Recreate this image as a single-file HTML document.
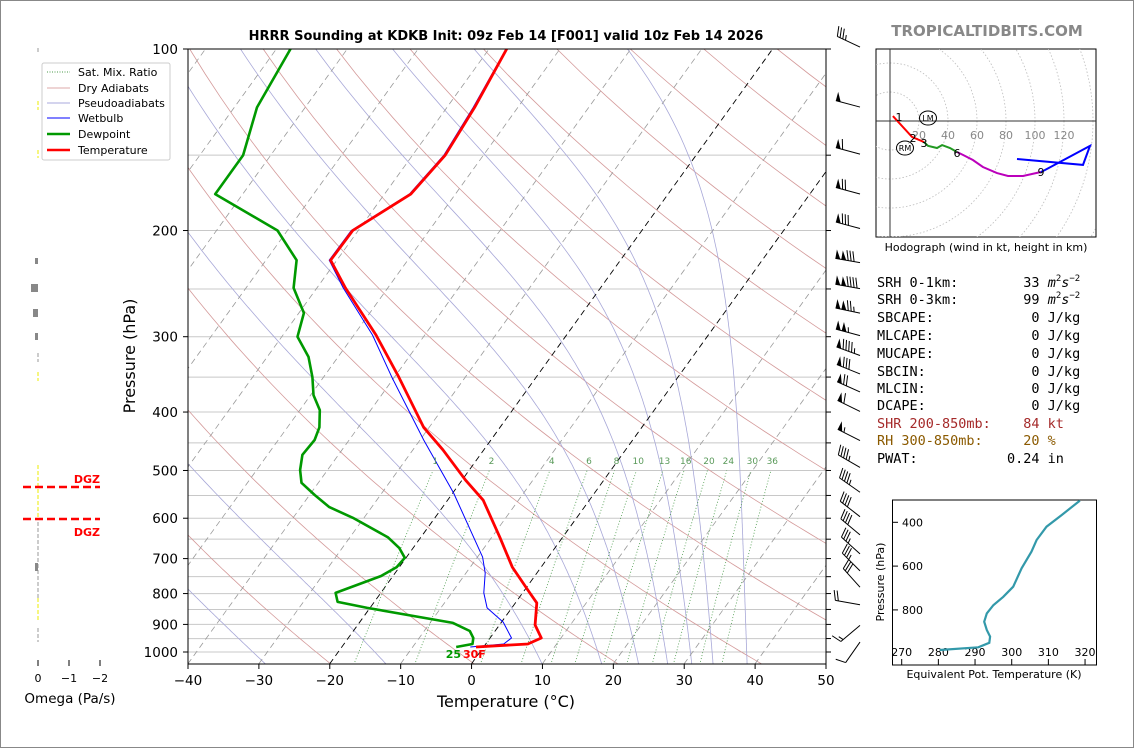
<!DOCTYPE html>
<html><head><meta charset="utf-8"><style>
html,body{margin:0;padding:0;background:#fff;}
svg{display:block;font-family:"DejaVu Sans","Liberation Sans",sans-serif;}
.mono text{font-family:"DejaVu Sans Mono","Liberation Mono",monospace;font-size:13.5px;white-space:pre;}
</style></head><body>
<svg id="fig" width="1134" height="748" viewBox="0 0 1134 748" xmlns="http://www.w3.org/2000/svg">
<rect x="0.5" y="0.5" width="1133" height="747" fill="#fff" stroke="#888"/>
<defs>
<clipPath id="plotclip"><rect x="188" y="49" width="638" height="615"/></clipPath>
<clipPath id="hodoclip"><rect x="876" y="49" width="220" height="188"/></clipPath>
</defs>
<g id="bg" clip-path="url(#plotclip)"></g>
<g id="series" clip-path="url(#plotclip)"></g>
<g id="axes"></g>
<text x="506" y="40" text-anchor="middle" font-size="13" font-weight="bold">HRRR Sounding at KDKB Init: 09z Feb 14 [F001] valid 10z Feb 14 2026</text>
<text x="987" y="36" text-anchor="middle" font-size="15" font-weight="bold" fill="#888">TROPICALTIDBITS.COM</text>
<text x="506" y="707" text-anchor="middle" font-size="16">Temperature (°C)</text>
<text x="135" y="356" text-anchor="middle" font-size="16" transform="rotate(-90 135 356)">Pressure (hPa)</text>

<g>
<rect x="42" y="63" width="128" height="97" fill="#fff" stroke="#ccc" rx="2"/>
<line x1="47" y1="72" x2="70" y2="72" stroke="#4a9a4a" stroke-dasharray="1,1.5"/>
<text x="78" y="76" font-size="11">Sat. Mix. Ratio</text>
<line x1="47" y1="88" x2="70" y2="88" stroke="#dcaaaa"/>
<text x="78" y="92" font-size="11">Dry Adiabats</text>
<line x1="47" y1="103" x2="70" y2="103" stroke="#aaaadc"/>
<text x="78" y="107" font-size="11">Pseudoadiabats</text>
<line x1="47" y1="118" x2="70" y2="118" stroke="#0000ff"/>
<text x="78" y="122" font-size="11">Wetbulb</text>
<line x1="47" y1="134" x2="70" y2="134" stroke="#009900" stroke-width="2.5"/>
<text x="78" y="138" font-size="11">Dewpoint</text>
<line x1="47" y1="150" x2="70" y2="150" stroke="#ff0000" stroke-width="2.5"/>
<text x="78" y="154" font-size="11">Temperature</text>
</g>

<g id="omega"></g>
<g id="barbs"></g>
<g id="hodo"></g>
<text x="986" y="251" text-anchor="middle" font-size="11">Hodograph (wind in kt, height in km)</text>

<g class="mono">
<text x="877" y="287">SRH 0-1km:        33 <tspan font-style="italic">m</tspan><tspan font-size="9" dy="-6">2</tspan><tspan font-style="italic" dy="6">s</tspan><tspan font-size="9" dy="-6">−2</tspan></text>
<text x="877" y="304">SRH 0-3km:        99 <tspan font-style="italic">m</tspan><tspan font-size="9" dy="-6">2</tspan><tspan font-style="italic" dy="6">s</tspan><tspan font-size="9" dy="-6">−2</tspan></text>
<text x="877" y="322">SBCAPE:            0 J/kg</text>
<text x="877" y="340">MLCAPE:            0 J/kg</text>
<text x="877" y="358">MUCAPE:            0 J/kg</text>
<text x="877" y="376">SBCIN:             0 J/kg</text>
<text x="877" y="393">MLCIN:             0 J/kg</text>
<text x="877" y="410">DCAPE:             0 J/kg</text>
<text x="877" y="428" fill="#a52a2a">SHR 200-850mb:    84 kt</text>
<text x="877" y="445" fill="#8b5a00">RH 300-850mb:     20 %</text>
<text x="877" y="463">PWAT:           0.24 in</text>
</g>

<g id="thetae"></g>

<script>
// ===== Skew-T data =====
const tempP = [100,125,150,174,200,224,249,298,350,424,462,519,560,645,723,795,829,902,948,970,981];
const tempT = [-57.5,-56.1,-55.4,-56.3,-60.8,-60.9,-56.0,-46.9,-39.4,-30.8,-25.8,-19.5,-15.0,-8.9,-4.1,0.8,3.0,5.0,7.2,5.9,-1.1];
const dewP = [100,125,150,174,200,224,249,274,300,324,350,375,397,424,445,471,499,524,549,575,599,645,672,698,723,748,798,826,845,895,923,948,970,981];
const dewT = [-88.0,-86.8,-83.9,-83.9,-71.4,-65.7,-63.3,-59.3,-57.8,-54.2,-51.6,-49.6,-47.2,-45.5,-44.9,-45.1,-43.9,-42.4,-39.3,-36.0,-31.6,-24.7,-22.0,-20.2,-20.4,-21.7,-26.4,-25.2,-20.4,-6.8,-3.6,-2.4,-1.9,-3.9];
const wbP = [100,125,150,174,200,224,249,298,350,445,545,696,740,798,845,892,948,970,981];
const wbT = [-57.6,-56.3,-55.6,-56.5,-61.0,-61.1,-56.3,-47.4,-40.4,-29.5,-19.9,-9.3,-7.3,-5.5,-3.5,0.2,3.0,2.5,-1.9];
const xTicks = [-40,-30,-20,-10,0,10,20,30,40,50];
const yTicks = [100,200,300,400,500,600,700,800,900,1000];
const gridP = [100,150,200,250,300,350,400,450,500,550,600,650,700,750,800,850,900,950,1000];
const mixW = [1,2,4,6,8,10,13,16,20,24,30,36];
const mixLabels = ["1","2","4","6","8","10","13","16","20","24","30","36"];
const dryTheta = [210,230,250,270,290,310,330,350,370,390,410,430,450,470,490,510,530,550];
const moistT0 = [-70,-55,-41,-29,-12,10,18.4,23.6,27.7,31.1,34.1,38.9];
const isoT = [-110,-100,-90,-80,-70,-60,-50,-40,-30,-20,-10,0,10,20,30,40,50];
// wind barbs
const barbP = [97,122,146,170,194,221,244,268,292,315,338,362,390,436,483,531,583,625,672,717,763,816,883,941];
const barbSpd = [35,50,60,70,80,130,140,125,105,95,80,70,60,55,45,45,40,40,35,35,30,20,15,10];
const barbDir = [295,285,285,285,285,280,280,282,285,290,292,294,296,297,300,305,308,310,312,315,318,280,230,215];
// hodograph (kt)
const hodoU1 = [2,15.2,23.4];           const hodoV1 = [3.4,-11,-14.5];
const hodoU2 = [23.4,26.2,32.4,35.9,41.4,46.2]; const hodoV2 = [-14.5,-17.2,-18.6,-16.6,-18.6,-21.4];
const hodoU3 = [46.2,50.3,57.2,64.1,73.8,81.4,91.7,104.1]; const hodoV3 = [-21.4,-23.4,-26.9,-31.7,-35.9,-37.9,-37.9,-35.2];
const hodoU4 = [104.1,106.9,137.9,133.1,87.6]; const hodoV4 = [-35.2,-33.8,-17.2,-30.3,-26.2];
const hodoRings = [20,40,60,80,100,120,140,160];
// theta-e inset
const teP = [301,367,420,481,534,610,694,740,778,816,854,892,922,950,971,983];
const teK = [318.6,313.6,309.5,306.8,305.4,302.7,300.4,297.7,295.0,293.2,292.5,293.2,294.1,293.9,290.9,280.4];
const teXTicks = [270,280,290,300,310,320];
const teYTicks = [400,600,800];

const NS="http://www.w3.org/2000/svg";
function mk(tag, attrs, parent){const e=document.createElementNS(NS,tag);for(const k in attrs)e.setAttribute(k,attrs[k]);if(parent)parent.appendChild(e);return e;}
const yP = p => 49 + 603*Math.log10(p/100);
const xT = (T,p) => 188 + (T+40)*7.0889 + 0.72*(664 - yP(p));
const pathFrom = pts => pts.map((q,i)=>(i?'L':'M')+q[0].toFixed(1)+','+q[1].toFixed(1)).join('');

const bg=document.getElementById('bg'), ser=document.getElementById('series'), ax=document.getElementById('axes');

gridP.forEach(p=>{
  const l=mk('line',{x1:188,x2:826,y1:yP(p),y2:yP(p),stroke:'#c8c8c8','stroke-width':1},bg);
  
  
});
dryTheta.forEach(th=>{
  const pts=[];for(let p=1050;p>=100;p-=10)pts.push([xT(th*Math.pow(p/1000,0.2857)-273.15,p),yP(p)]);
  const e=mk('path',{d:pathFrom(pts),fill:'none',stroke:'#d49a9a','stroke-width':0.8},bg);
  
  
});
function esat(Tk){return 6.112*Math.exp(17.67*(Tk-273.15)/(Tk-29.65));}
function dTdp(T,p){const es=esat(T);const rs=0.622*es/Math.max(p-es,1);const Rd=287.04,Cp=1005.7,Lv=2.501e6;
  return (Rd*T+Lv*rs)/(p*(Cp+Lv*Lv*rs*0.622/(Rd*T*T)));}
moistT0.forEach(t0=>{
  const pts=[];let T=t0+273.15;
  for(let p=1048;p>=100;p-=4){pts.push([xT(T-273.15,p),yP(p)]);const k1=dTdp(T,p);const k2=dTdp(T-k1*4,p-4);T-=(k1+k2)*2;}
  const e=mk('path',{d:pathFrom(pts),fill:'none',stroke:'#a8a8d8','stroke-width':0.8},bg);
  
  
});
isoT.forEach(t=>{
  const black=(t===0||t===-20);
  const e=mk('line',{x1:xT(t,1048),y1:664,x2:xT(t,100),y2:49,stroke:black?'#000':'#999','stroke-width':black?0.9:0.8,'stroke-dasharray':'6,4'},bg);
  
  
});
mixW.forEach((w,i)=>{
  const pts=[];for(let p=1050;p>=500;p-=10){const e=p*w/(622+w);const l=Math.log(e/6.112);pts.push([xT(243.5*l/(17.67-l),p),yP(p)]);}
  const e=mk('path',{d:pathFrom(pts),fill:'none',stroke:'#4a9a4a','stroke-width':0.8,'stroke-dasharray':'1,2'},bg);
  
  
  const pl=490, ev=pl*w/(622+w), lv=Math.log(ev/6.112);
  const t=mk('text',{x:xT(243.5*lv/(17.67-lv),pl),y:yP(pl)-1,'font-size':9,fill:'#5a9a5a','text-anchor':'middle'},ax);
  t.textContent=mixLabels[i];
  
  
});
function series(P,T,color,w,name){
  const pts=P.map((p,i)=>[xT(T[i],p),yP(p)]);
  const e=mk('path',{d:pathFrom(pts),fill:'none',stroke:color,'stroke-width':w,'stroke-linejoin':'round'},ser);
  
  
}
series(wbP,wbT,'#0000ff',1,'wetbulb-line');
series(dewP,dewT,'#009900',2.6,'dewpoint-line');
series(tempP,tempT,'#ff0000',2.8,'temperature-line');
{
  const sp=dewP[dewP.length-1];
  const a=mk('text',{x:461,y:yP(sp)+11,'font-size':11,'font-weight':'bold',fill:'#009900','text-anchor':'end'},ax);a.textContent='25';
  
  
  const b=mk('text',{x:463,y:yP(sp)+11,'font-size':11,'font-weight':'bold',fill:'#ff0000'},ax);b.textContent='30F';
  
  
}
mk('rect',{x:188,y:49,width:638,height:615,fill:'none',stroke:'#000','stroke-width':1},ax);
xTicks.forEach(t=>{
  const x=188+(t+40)*7.0889;
  mk('line',{x1:x,x2:x,y1:664,y2:669,stroke:'#000'},ax);
  const e=mk('text',{x:x,y:685,'font-size':13.5,'text-anchor':'middle'},ax);
  e.textContent=(t<0?'−'+(-t):String(t));
  
  
});
yTicks.forEach(p=>{
  const y=yP(p);
  mk('line',{x1:183,x2:188,y1:y,y2:y,stroke:'#000'},ax);
  const e=mk('text',{x:178,y:y+5,'font-size':13.5,'text-anchor':'end'},ax);
  e.textContent=String(p);
  
  
});
gridP.forEach(p=>{mk('line',{x1:826,x2:831,y1:yP(p),y2:yP(p),stroke:'#000'},ax);});

// ===== Omega panel =====
const om=document.getElementById('omega');
const omX = v => 38 - v*31;
[0,-1,-2].forEach(v=>{
  mk('line',{x1:omX(v),x2:omX(v),y1:660,y2:666,stroke:'#000'},om);
  const t=mk('text',{x:omX(v),y:682,'font-size':11,'text-anchor':'middle'},om);t.textContent=(v<0?'−'+(-v):'0');
  
  
});
{const t=mk('text',{x:70,y:703,'font-size':13.5,'text-anchor':'middle'},om);t.textContent='Omega (Pa/s)';
 
 }
const omSeg=[[48,52,'#999'],[101,110,'#ee0'],[150,158,'#ee0'],[353,362,'#999'],[372,381,'#ee0'],[465,520,'#ee0'],[522,600,'#999'],[598,620,'#ee0'],[628,642,'#999']];
omSeg.forEach(s=>{mk('line',{x1:38,x2:38,y1:s[0],y2:s[1],stroke:s[2],'stroke-width':1,'stroke-dasharray':'4,2'},om);});
[[258,264,35],[284,292,31],[309,317,33],[333,340,35],[563,571,35]].forEach(r=>{mk('rect',{x:r[2],y:r[0],width:38-r[2],height:r[1]-r[0],fill:'#888'},om);});
[[487,479],[519,532]].forEach(d=>{
  const l=mk('line',{x1:23,x2:100,y1:d[0],y2:d[0],stroke:'#ff0000','stroke-width':2.5,'stroke-dasharray':'8,4'},om);
  
  
  const t=mk('text',{x:100,y:d[1]+4,'font-size':11,'font-weight':'bold',fill:'#ff0000','text-anchor':'end'},om);t.textContent='DGZ';
  
  
});

// ===== Wind barbs =====
const bg2=document.getElementById('barbs');
barbP.forEach((p,i)=>{
  const g=mk('g',{},bg2);
  
  
  const d=barbDir[i]*Math.PI/180, sx=Math.sin(d), sy=-Math.cos(d);
  const bx=860, by=yP(p)+6, L=25;
  const tx=bx+sx*L, ty=by+sy*L;
  mk('line',{x1:bx,y1:by,x2:tx,y2:ty,stroke:'#000','stroke-width':1},g);
  let nx=-sy, ny=sx; if(ny>0){nx=-nx;ny=-ny;}
  let spd=Math.round(barbSpd[i]/5)*5, pos=0;
  const at=s=>[tx-sx*s,ty-sy*s];
  while(spd>=50){const a=at(pos),b=at(pos+5);
    mk('polygon',{points:`${a[0]},${a[1]} ${b[0]},${b[1]} ${a[0]+nx*9},${a[1]+ny*9}`,fill:'#000'},g);pos+=6;spd-=50;}
  if(pos>0)pos+=1;
  while(spd>=10){const a=at(pos);mk('line',{x1:a[0],y1:a[1],x2:a[0]+nx*10+sx*3,y2:a[1]+ny*10+sy*3,stroke:'#000'},g);pos+=3;spd-=10;}
  if(spd>=5){if(pos===0)pos=3;const a=at(pos);mk('line',{x1:a[0],y1:a[1],x2:a[0]+nx*5+sx*1.5,y2:a[1]+ny*5+sy*1.5,stroke:'#000'},g);}
});

// ===== Hodograph =====
const hg=document.getElementById('hodo');
const hx=u=>890+u*1.45, hy=v=>121-v*1.45;
mk('rect',{x:876,y:49,width:220,height:188,fill:'#fff',stroke:'#000'},hg);
const hc=mk('g',{'clip-path':'url(#hodoclip)'},hg);
hodoRings.forEach(r=>{mk('circle',{cx:hx(0),cy:hy(0),r:r*1.45,fill:'none',stroke:'#bbb','stroke-dasharray':'1.5,2','stroke-width':0.8},hc);});
mk('line',{x1:876,x2:1096,y1:hy(0),y2:hy(0),stroke:'#333'},hc);
mk('line',{x1:hx(0),x2:hx(0),y1:49,y2:237,stroke:'#333'},hc);
hodoRings.slice(0,6).forEach(r=>{const t=mk('text',{x:hx(r),y:hy(0)+18,'font-size':11,fill:'#888','text-anchor':'middle'},hc);t.textContent=String(r);
  
  });
[[hodoU1,hodoV1,'#ff0000','hodo-0-3km'],[hodoU2,hodoV2,'#229922','hodo-3-6km'],[hodoU3,hodoV3,'#bb00bb','hodo-6-9km'],[hodoU4,hodoV4,'#0000ff','hodo-9km-plus']].forEach(s=>{
  const e=mk('path',{d:pathFrom(s[0].map((u,i)=>[hx(u),hy(s[1][i])])),fill:'none',stroke:s[2],'stroke-width':2},hc);
  
  
});
[['1',899,121],['2',913,142],['3',924,147],['6',957,157],['9',1041,176]].forEach(l=>{const t=mk('text',{x:l[1],y:l[2],'font-size':11,'text-anchor':'middle'},hc);t.textContent=l[0];
  
  });
[['RM',905,148],['LM',928,118]].forEach(m=>{
  mk('ellipse',{cx:m[1],cy:m[2],rx:8.5,ry:7,fill:'none',stroke:'#000'},hc);
  const t=mk('text',{x:m[1],y:m[2]+3,'font-size':8,'text-anchor':'middle'},hc);t.textContent=m[0];
  
  
});

// ===== Theta-e inset =====
const te=document.getElementById('thetae');
const ex=k=>901.7+(k-270)*3.667, ey=p=>522.3+(p-400)*0.219;
mk('rect',{x:892.5,y:500,width:204,height:165,fill:'#fff',stroke:'#000'},te);
teXTicks.forEach(k=>{mk('line',{x1:ex(k),x2:ex(k),y1:665,y2:659,stroke:'#000'},te);
  const t=mk('text',{x:ex(k),y:656,'font-size':11,'text-anchor':'middle'},te);t.textContent=String(k);
  
  });
teYTicks.forEach(p=>{mk('line',{x1:892.5,x2:898,y1:ey(p),y2:ey(p),stroke:'#000'},te);
  const t=mk('text',{x:902,y:ey(p)+4,'font-size':11},te);t.textContent=String(p);
  
  });
{const e=mk('path',{d:pathFrom(teP.map((p,i)=>[ex(teK[i]),ey(p)])),fill:'none',stroke:'#3399aa','stroke-width':2.2},te);
 
 
 const t=mk('text',{x:994,y:678,'font-size':11,'text-anchor':'middle'},te);t.textContent='Equivalent Pot. Temperature (K)';
 
 
 const t2=mk('text',{x:884,y:582,'font-size':11,'text-anchor':'middle',transform:'rotate(-90 884 582)'},te);t2.textContent='Pressure (hPa)';
 
 }
</script>
</svg>
</body></html>
